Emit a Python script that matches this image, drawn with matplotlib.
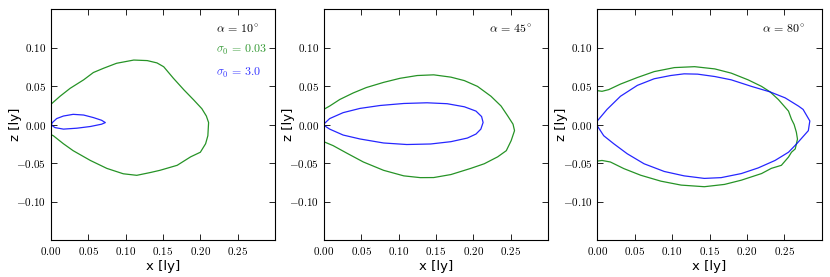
import matplotlib
matplotlib.use('Agg')
import matplotlib.pyplot as plt
from matplotlib.ticker import FuncFormatter

plt.rcParams['mathtext.fontset'] = 'cm'
plt.rcParams['font.family'] = 'DejaVu Sans'

GREEN = (0.0, 0.5, 0.0)
BLUE = (0.0, 0.0, 1.0)

alphas = [10, 45, 80]

# sigma0 = 0.03 contours (green)
green_x = [
    [0.000, 0.0125, 0.026, 0.044, 0.057, 0.0705, 0.088, 0.111, 0.129, 0.142, 0.151, 0.164,
     0.178, 0.191, 0.202, 0.208, 0.211, 0.210, 0.207, 0.200, 0.187, 0.169, 0.146, 0.133,
     0.115, 0.097, 0.075, 0.053, 0.030, 0.017, 0.0035, 0.000],
    [0.000, 0.008, 0.0215, 0.0395, 0.057, 0.080, 0.102, 0.125, 0.147, 0.170, 0.188, 0.2055,
     0.2235, 0.237, 0.246, 0.253, 0.255, 0.2505, 0.244, 0.2325, 0.2145, 0.1965, 0.170, 0.147,
     0.129, 0.107, 0.080, 0.053, 0.0305, 0.0125, 0.000],
    [0.000, 0.0063, 0.0153, 0.031, 0.0535, 0.076, 0.103, 0.130, 0.157, 0.179, 0.2015, 0.2195,
     0.231, 0.242, 0.2555, 0.2595, 0.263, 0.266, 0.2675, 0.2645, 0.2595, 0.2555, 0.246, 0.2325,
     0.2195, 0.1925, 0.170, 0.143, 0.112, 0.085, 0.058, 0.0355, 0.0175, 0.0063, 0.000],
]
green_z = [
    [0.026, 0.0367, 0.047, 0.058, 0.0675, 0.073, 0.0795, 0.0837, 0.083, 0.080, 0.075, 0.060,
     0.045, 0.032, 0.0205, 0.011, 0.0025, -0.0146, -0.025, -0.036, -0.042, -0.053, -0.0595,
     -0.0624, -0.066, -0.064, -0.057, -0.0467, -0.034, -0.025, -0.0146, -0.013],
    [0.0196, 0.024, 0.0325, 0.041, 0.048, 0.0547, 0.060, 0.0636, 0.0645, 0.0615, 0.057, 0.0495,
     0.0367, 0.024, 0.011, 0.0004, -0.008, -0.021, -0.034, -0.042, -0.051, -0.057, -0.065,
     -0.0689, -0.069, -0.0667, -0.0595, -0.0487, -0.037, -0.0274, -0.0223],
    [0.044, 0.0431, 0.0453, 0.0525, 0.061, 0.0687, 0.0739, 0.0751, 0.0722, 0.0667, 0.058, 0.0495,
     0.0423, 0.0324, 0.0174, 0.0068, 0.000, -0.010, -0.019, -0.0317, -0.036, -0.0423, -0.053,
     -0.057, -0.0637, -0.0723, -0.0778, -0.0808, -0.0787, -0.0736, -0.0659, -0.0573, -0.0487,
     -0.0467, -0.0475],
]

# sigma0 = 3.0 contours (blue)
blue_x = [
    [0.0013, 0.008, 0.017, 0.030, 0.044, 0.057, 0.068, 0.073, 0.068, 0.053, 0.035, 0.017,
     0.0057, 0.0013, 0.0013],
    [0.000, 0.008, 0.026, 0.0485, 0.0755, 0.107, 0.138, 0.165, 0.188, 0.2035, 0.211, 0.213,
     0.210, 0.2035, 0.192, 0.170, 0.143, 0.111, 0.080, 0.0485, 0.026, 0.008, 0.000],
    [0.000, 0.013, 0.031, 0.0535, 0.076, 0.098, 0.116, 0.134, 0.157, 0.179, 0.206, 0.231,
     0.251, 0.269, 0.275, 0.284, 0.282, 0.2665, 0.2555, 0.2375, 0.215, 0.1925, 0.1655, 0.143,
     0.116, 0.0895, 0.0625, 0.040, 0.022, 0.0086, 0.000],
]
blue_z = [
    [0.0017, 0.0077, 0.011, 0.0132, 0.0123, 0.009, 0.0055, 0.0025, 0.0004, -0.0026, -0.0048,
     -0.006, -0.004, -0.001, 0.0017],
    [0.0004, 0.0077, 0.0154, 0.0209, 0.0247, 0.0273, 0.0282, 0.027, 0.023, 0.0174, 0.0103,
     0.0026, -0.006, -0.0124, -0.0176, -0.0223, -0.0253, -0.026, -0.024, -0.0188, -0.0137,
     -0.006, -0.0009],
    [0.0046, 0.0196, 0.0367, 0.0508, 0.0594, 0.0636, 0.0658, 0.0654, 0.0623, 0.058, 0.0495,
     0.0423, 0.0346, 0.0238, 0.0196, 0.0046, -0.008, -0.025, -0.036, -0.0467, -0.0564, -0.0637,
     -0.069, -0.070, -0.0667, -0.061, -0.051, -0.038, -0.025, -0.0146, -0.0018],
]

fig = plt.figure(figsize=(8.3, 2.77), dpi=100)
lefts = [50.7, 323.7, 597.3]
W, H = 830.0, 277.0
fmt = FuncFormatter(lambda v, p: '$%.2f$' % v)

for i in range(3):
    ax = fig.add_axes([lefts[i] / W, (H - 240) / H, 224.5 / W, 231 / H])
    ax.plot(green_x[i], green_z[i], color=GREEN, lw=0.9, alpha=0.85)
    ax.plot(blue_x[i], blue_z[i], color=BLUE, lw=0.9, alpha=0.85)
    ax.set_xlim(0, 0.3)
    ax.set_ylim(-0.15, 0.15)
    ax.set_xticks([0, 0.05, 0.10, 0.15, 0.20, 0.25])
    ax.set_yticks([-0.10, -0.05, 0, 0.05, 0.10])
    ax.xaxis.set_major_formatter(fmt)
    ax.yaxis.set_major_formatter(fmt)
    ax.tick_params(direction='in', top=True, right=True, labelsize=8, length=4, width=0.6, pad=3.5)
    for s in ax.spines.values():
        s.set_linewidth(0.8)
    ax.set_xlabel('x [ly]', fontsize=9.5, labelpad=2)
    ax.set_ylabel('z [ly]', fontsize=9.5)
    ax.yaxis.set_label_coords(-0.13, 0.5)
    ax.text(0.735, 0.91, r'$\alpha\,=\,%d^{\circ}$' % alphas[i], transform=ax.transAxes,
            fontsize=8.6, va='center', ha='left')
    if i == 0:
        ax.text(0.735, 0.822, r'$\sigma_0\,=\,0.03$', transform=ax.transAxes,
                fontsize=8.6, va='center', ha='left', color=GREEN, alpha=0.8)
        ax.text(0.735, 0.723, r'$\sigma_0\,=\,3.0$', transform=ax.transAxes,
                fontsize=8.6, va='center', ha='left', color=BLUE, alpha=0.8)

fig.savefig('out.png', dpi=100)
